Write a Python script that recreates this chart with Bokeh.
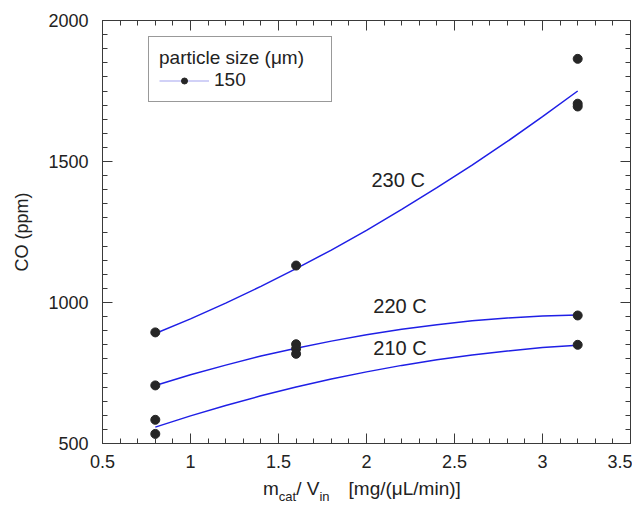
from bokeh.plotting import figure
from bokeh.models import (Range1d, LinearAxis, SingleIntervalTicker, Label,
                          Legend, LegendItem, Div)
from bokeh.layouts import column
from bokeh.embed import file_html
from bokeh.resources import INLINE

# ---------------- data ----------------
x_ticks = [0.5, 1.0, 1.5, 2.0, 2.5, 3.0, 3.5]
x_tick_labels = ["0.5", "1", "1.5", "2", "2.5", "3", "3.5"]
y_ticks = [500, 1000, 1500, 2000]
y_tick_labels = ["500", "1000", "1500", "2000"]

meas_x = [0.8, 0.8, 0.8, 0.8, 1.6, 1.6, 1.6, 1.6, 3.2, 3.2, 3.2, 3.2, 3.2]
meas_co = [894, 706, 584, 534, 1131, 852, 836, 818, 1864, 1705, 1695, 954, 850]

fit_x = [0.8, 1.0, 1.2, 1.4, 1.6, 1.8, 2.0, 2.2, 2.4, 2.6, 2.8, 3.0, 3.2]
fit_230 = [890, 942, 998, 1057, 1120, 1186, 1256, 1330, 1407, 1487, 1571, 1659, 1750]
fit_220 = [706, 744, 778, 810, 838, 863, 886, 905, 921, 935, 945, 952, 956]
fit_210 = [558, 598, 635, 669, 700, 729, 754, 777, 797, 814, 828, 840, 848]

curve_names = ["230 C", "220 C", "210 C"]
curve_label_x = [2.18, 2.19, 2.19]
curve_label_y = [1433, 989, 837]

legend_title = "particle size (\u03bcm)"
legend_label = "150"
y_title = "CO (ppm)"
x_title_html = ('m<span class="s">cat</span>/ V<span class="s">in</span>'
                '<span style="margin-left:19px">[mg/(\u03bcL/min)]</span>')

FONT = "Liberation Sans"

p = figure(width=632, height=475,
           x_range=Range1d(0.5, 3.5), y_range=Range1d(500, 2000),
           x_axis_type=None, y_axis_type=None,
           output_backend="svg", toolbar_location=None,
           min_border_left=102, min_border_right=2,
           min_border_top=20, min_border_bottom=32)
p.outline_line_color = None
p.xgrid.visible = False
p.ygrid.visible = False
p.background_fill_color = "white"


def make_axis(interval, minor, ticks, labels, show):
    ax = LinearAxis(ticker=SingleIntervalTicker(interval=interval, num_minor_ticks=minor))
    ax.axis_line_color = "#3a3a3a"
    ax.major_tick_line_color = "#3a3a3a"
    ax.minor_tick_line_color = "#3a3a3a"
    ax.major_tick_in = 10
    ax.major_tick_out = 0
    ax.minor_tick_in = 5
    ax.minor_tick_out = 0
    if show:
        ax.major_label_overrides = {t: l for t, l in zip(ticks, labels)}
        ax.major_label_text_font = FONT
        ax.major_label_text_font_size = "18px"
        ax.major_label_text_color = "#222222"
    else:
        ax.major_label_text_font_size = "0px"
        ax.major_label_text_color = None
        ax.major_label_standoff = 0
    return ax


xb = make_axis(0.5, 5, x_ticks, x_tick_labels, True)
xb.major_label_standoff = 11
xt = make_axis(0.5, 5, x_ticks, x_tick_labels, False)
yl = make_axis(500, 10, y_ticks, y_tick_labels, True)
yl.major_label_standoff = 14
yl.axis_label = y_title
yl.axis_label_text_font = FONT
yl.axis_label_text_font_size = "18px"
yl.axis_label_text_font_style = "normal"
yl.axis_label_text_color = "#222222"
yl.axis_label_standoff = 13
yr = make_axis(500, 10, y_ticks, y_tick_labels, False)
p.add_layout(xb, "below")
p.add_layout(xt, "above")
p.add_layout(yl, "left")
p.add_layout(yr, "right")

# fitted curves
for ys in (fit_230, fit_220, fit_210):
    p.line(fit_x, ys, line_color="#1f1fe6", line_width=1.5)

# measured points
pts = p.scatter(meas_x, meas_co, size=9, marker="circle",
                fill_color="#262626", line_color="#262626")

# curve labels
for name, lx, ly in zip(curve_names, curve_label_x, curve_label_y):
    p.add_layout(Label(x=lx, y=ly, text=name, text_align="center",
                       text_baseline="middle", text_font=FONT,
                       text_font_size="20px", text_color="#222222"))

# legend (single-point line: gives the legend its line sample, draws nothing)
legend_line = p.line(fit_x[:1], fit_230[:1], line_color="#a4a4f0", line_width=1.2)
legend = Legend(items=[LegendItem(label=legend_label, renderers=[legend_line, pts])],
                title=legend_title, location=(46, 341))
legend.margin = 0
legend.padding = 10
legend.title_standoff = 0
legend.title_text_font = FONT
legend.title_text_font_size = "19px"
legend.title_text_font_style = "normal"
legend.title_text_color = "#222222"
legend.label_text_font = FONT
legend.label_text_font_size = "19px"
legend.label_text_color = "#222222"
legend.glyph_width = 50
legend.glyph_height = 15
legend.label_height = 15
legend.label_standoff = 5
legend.label_width = 107
legend.border_line_color = "#333333"
legend.border_line_width = 1
legend.background_fill_color = "white"
legend.background_fill_alpha = 1
p.add_layout(legend)

# x axis title with subscripts
xdiv = Div(text=x_title_html, width=632, height=28, margin=(0, 0, 0, 0),
           stylesheets=[".s{font-size:13px;position:relative;top:6px;}"],
           styles={"font-family": FONT, "font-size": "19px", "color": "#222222",
                   "line-height": "22px", "padding-left": "263px",
                   "padding-top": "3px", "white-space": "nowrap",
                   "box-sizing": "border-box"})

layout = column(p, xdiv, spacing=0)
open("out.html", "w").write(file_html(layout, INLINE))
